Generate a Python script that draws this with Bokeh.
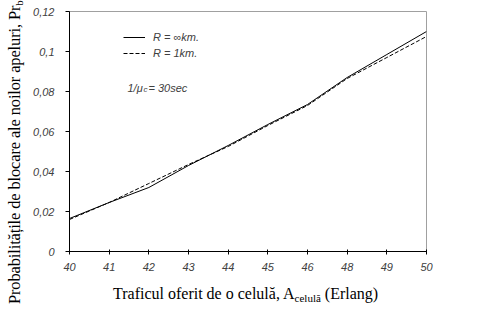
from bokeh.plotting import figure
from bokeh.models import (FixedTicker, CustomJSTickFormatter, Label, Legend, LegendItem,
                          Range1d, Div)
from bokeh.layouts import row, column
from bokeh.embed import file_html
from bokeh.resources import INLINE

# Data
categories = ["40", "41", "42", "43", "44", "45", "46", "48", "49", "50"]
r_inf = [0.0165, 0.0245, 0.032, 0.043, 0.053, 0.0635, 0.0735, 0.087, 0.0985, 0.110]
r_1km = [0.016, 0.0245, 0.034, 0.0435, 0.0525, 0.063, 0.073, 0.0865, 0.097, 0.1075]
y_ticks = [0, 0.02, 0.04, 0.06, 0.08, 0.10, 0.12]

xs = list(range(len(categories)))

p = figure(width=463, height=280, output_backend="svg", toolbar_location=None,
           x_range=Range1d(0, len(categories) - 1), y_range=Range1d(0, 0.12),
           min_border_left=38, min_border_right=67, min_border_top=11, min_border_bottom=29,
           margin=0)
p.background_fill_color = "white"
p.border_fill_color = "white"
p.outline_line_color = "#a0a0a0"
p.outline_line_width = 1
p.xgrid.visible = False
p.ygrid.visible = False

r1 = p.line(xs, r_inf, line_color="black", line_width=1)
r2 = p.line(xs, r_1km, line_color="black", line_width=1, line_dash="4 2")

# axes
p.xaxis.ticker = FixedTicker(ticks=xs)
p.xaxis.major_label_overrides = {i: c for i, c in enumerate(categories)}
p.yaxis.ticker = FixedTicker(ticks=y_ticks)
p.yaxis.formatter = CustomJSTickFormatter(code="""
if (Math.abs(tick) < 1e-9) return "0";
return String(parseFloat(tick.toFixed(2))).replace('.', ',');
""")
for ax in (p.xaxis[0], p.yaxis[0]):
    ax.axis_line_color = "black"
    ax.axis_line_width = 1
    ax.major_tick_line_color = "black"
    ax.minor_tick_line_color = None
    ax.major_label_text_font = "Liberation Sans"
    ax.major_label_text_font_style = "italic"
    ax.major_label_text_font_size = "11px"
    ax.major_label_text_color = "#404040"
p.xaxis.major_tick_in = 2
p.xaxis.major_tick_out = 3
p.xaxis.major_label_standoff = 8
p.yaxis.major_tick_in = 0
p.yaxis.major_tick_out = 4
p.yaxis.major_label_standoff = 11

# legend
legend = Legend(items=[LegendItem(label="R = \u221ekm.", renderers=[r1]),
                       LegendItem(label="R = 1km.", renderers=[r2])],
                location=(54, 190), orientation="vertical")
legend.border_line_color = None
legend.background_fill_alpha = 0
legend.padding = 0
legend.margin = 0
legend.spacing = 0
legend.glyph_width = 22
legend.glyph_height = 16
legend.label_height = 16
legend.label_standoff = 8
legend.label_text_font = "Liberation Sans"
legend.label_text_font_style = "italic"
legend.label_text_font_size = "11px"
legend.label_text_color = "#404040"
p.add_layout(legend, "center")

def lab(text, x, y, size):
    p.add_layout(Label(x=x, y=y, x_units="canvas", y_units="canvas", text=text,
                       text_font="Liberation Sans", text_font_style="italic",
                       text_font_size=size, text_color="#404040",
                       text_baseline="middle", text_align="left"))

# annotation 1/mu_c = 30sec (canvas coords of the figure)
lab("1/\u03bc", 97, 87, "11px")
lab("c", 113, 89, "8px")
lab("= 30sec", 118, 87, "11px")

x_title = Div(
    text='Traficul oferit de o celul\u0103, A<span style="font-size:11px;vertical-align:-3px">celul\u0103</span> (Erlang)',
    width=463, height=29, margin=0,
    styles={"font-family": "Liberation Serif", "font-size": "16px", "line-height": "16px",
            "white-space": "nowrap", "padding-left": "83px", "padding-top": "6px",
            "box-sizing": "border-box", "color": "black"})

y_title = Div(
    text=('<span style="position:absolute;left:6px;top:304px;transform:rotate(-90deg);'
          'transform-origin:left top;white-space:nowrap;font-family:\'Liberation Serif\';'
          'font-size:16.5px;letter-spacing:-0.15px;line-height:17px;color:black">'
          'Probabilit\u0103\u021bile de blocare ale noilor apeluri, Pr'
          '<span style="font-size:11px;letter-spacing:0;vertical-align:-3px">b</span></span>'),
    width=30, height=309, margin=0,
    styles={"font-family": "Liberation Serif", "font-size": "17px", "color": "black"})

layout = row(y_title, column(p, x_title, spacing=0, margin=0), spacing=0, margin=0)

open("out.html", "w").write(file_html(layout, INLINE))
